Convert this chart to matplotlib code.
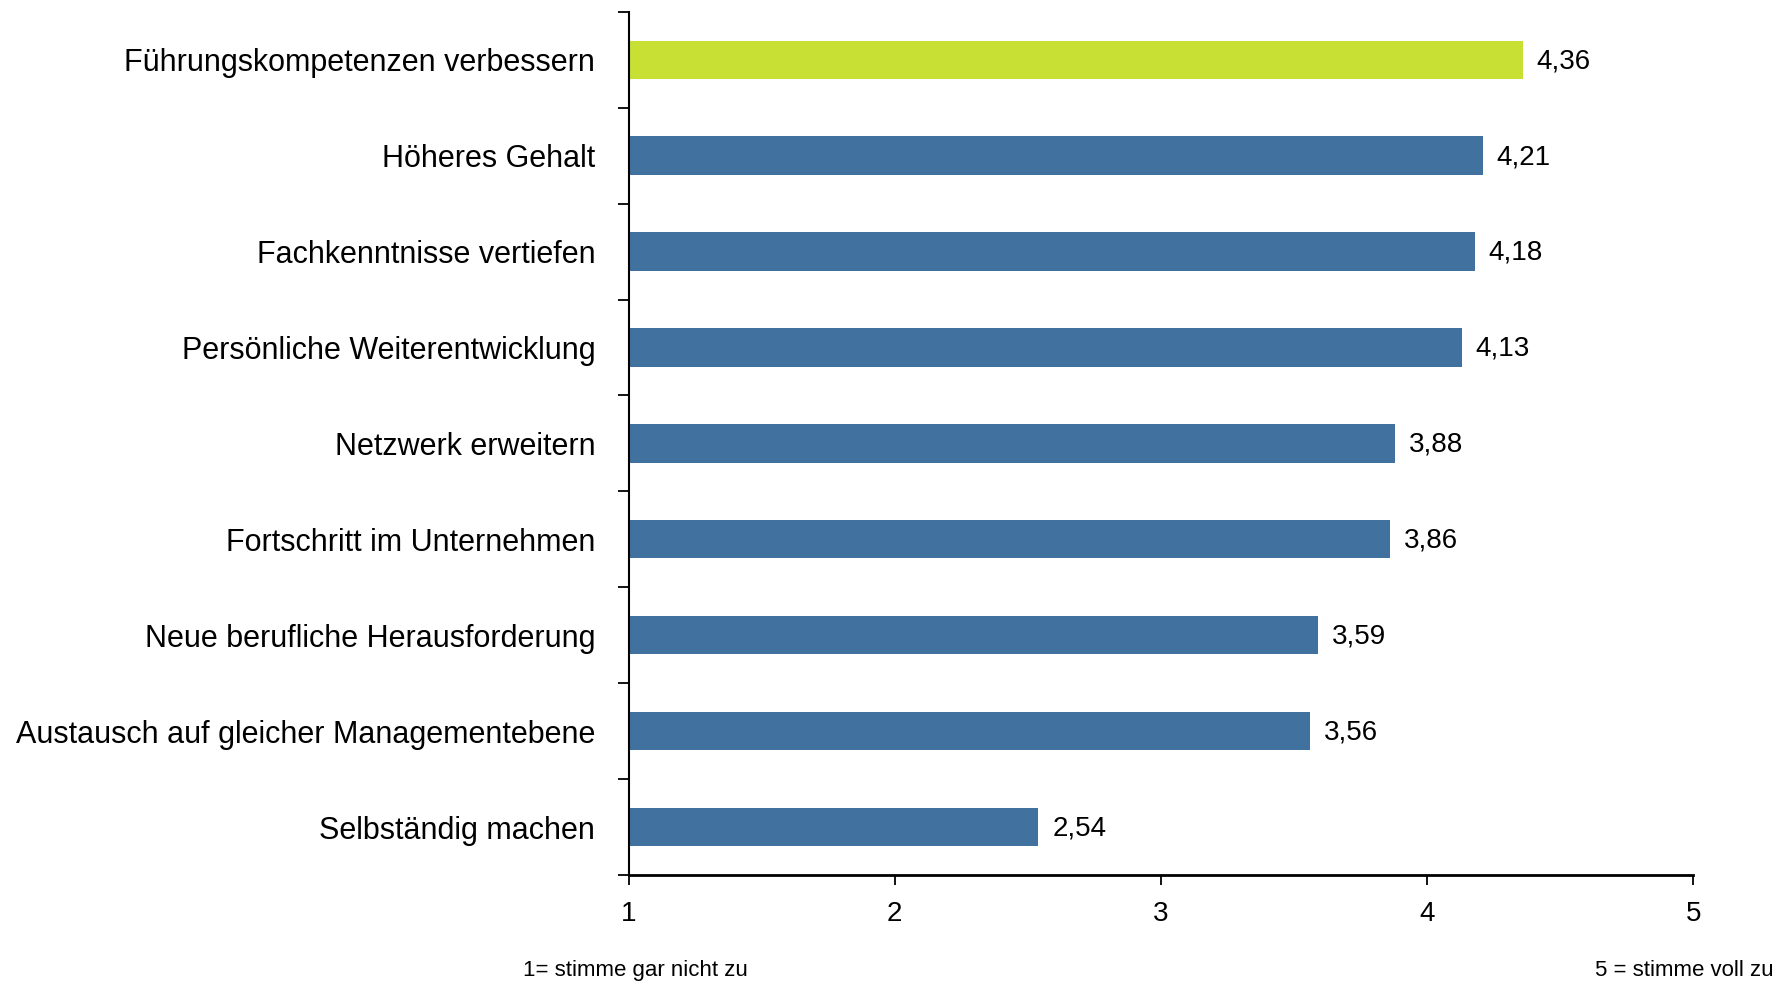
import numpy as np
import matplotlib.pyplot as plt
from matplotlib.ticker import FixedLocator

# Gründe für die Weiterbildung (Mittelwerte, Skala 1-5)
kategorien = ['Führungskompetenzen verbessern', 'Höheres Gehalt', 'Fachkenntnisse vertiefen',
              'Persönliche Weiterentwicklung', 'Netzwerk erweitern', 'Fortschritt im Unternehmen',
              'Neue berufliche Herausforderung', 'Austausch auf gleicher Managementebene',
              'Selbständig machen']
werte = [4.36, 4.21, 4.18, 4.13, 3.88, 3.86, 3.59, 3.56, 2.54]
xticks = [1, 2, 3, 4, 5]

gruen = '#C8E034'
blau = '#41729F'

plt.rcParams['font.family'] = ['Liberation Sans', 'DejaVu Sans']

fig = plt.figure(figsize=(17.86, 9.82), dpi=100)
ax = fig.add_axes([0.352, 0.109, 0.596, 0.879])

y = np.arange(len(kategorien))
farben = [gruen] + [blau] * (len(werte) - 1)
# Balken beginnen bei 1 (Skalenanfang)
ax.barh(y, np.array(werte) - 1, left=1, height=0.4, color=farben)

for yi, w in zip(y, werte):
    ax.annotate(f'{w:.2f}'.replace('.', ','), (w, yi), xytext=(10, -1),
                textcoords='offset points', va='center', ha='left', fontsize=20)

ax.set_xlim(1, 5)
ax.set_ylim(len(kategorien) - 0.5, -0.5)
ax.set_xticks(xticks)
ax.set_xticklabels([str(t) for t in xticks], fontsize=20)

# Beschriftung in der Mitte, Striche zwischen den Kategorien
ax.set_yticks(y)
ax.set_yticklabels(kategorien, fontsize=22)
ax.tick_params(axis='y', which='major', length=0, pad=24)
ax.yaxis.set_minor_locator(FixedLocator(np.arange(-0.5, len(kategorien), 1.0)))
ax.tick_params(axis='y', which='minor', length=8, width=1.3, direction='out')
ax.tick_params(axis='x', length=7, width=1.3, direction='out', pad=12)

for s in ['top', 'right']:
    ax.spines[s].set_visible(False)
ax.spines['left'].set_linewidth(1.5)
ax.spines['bottom'].set_linewidth(2)

fig.text(0.356, 0.006, '1= stimme gar nicht zu', ha='center', va='baseline', fontsize=16)
fig.text(0.993, 0.006, '5 = stimme voll zu', ha='right', va='baseline', fontsize=16)

fig.savefig('out.png', dpi=100)
